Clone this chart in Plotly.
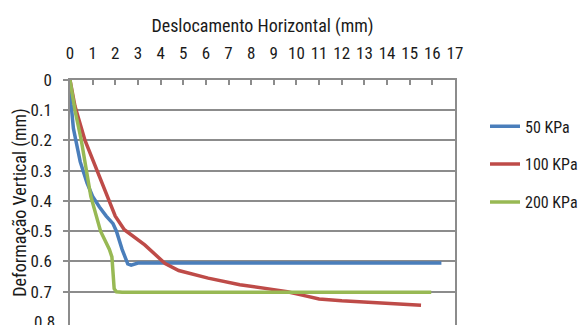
import plotly.graph_objects as go

# Horizontal displacement (mm) vs vertical deformation (mm) for each normal stress
x_50 = [0, 0.05, 0.15, 0.45, 0.75, 1.0, 1.3, 1.6, 1.9, 2.05, 2.3, 2.55, 2.7, 3.0, 4.0, 6.0, 8.0, 10.0, 12.0, 14.0, 16.4]
y_50 = [0, 0.08, 0.16, 0.27, 0.34, 0.385, 0.42, 0.45, 0.475, 0.5, 0.56, 0.608, 0.612, 0.605, 0.605, 0.605, 0.605, 0.605, 0.605, 0.605, 0.605]

x_100 = [0, 0.22, 0.65, 1.17, 1.6, 2.0, 2.4, 3.3, 4.2, 4.8, 6.1, 7.5, 9.0, 9.6, 10.3, 11.0, 12.0, 13.0, 14.0, 15.5]
y_100 = [0, 0.087, 0.197, 0.297, 0.38, 0.45, 0.495, 0.545, 0.607, 0.63, 0.655, 0.677, 0.693, 0.70, 0.712, 0.724, 0.73, 0.735, 0.739, 0.745]

x_200 = [0, 0.22, 0.5, 0.72, 0.92, 1.35, 1.74, 1.85, 1.95, 2.05, 2.3, 4.0, 6.0, 8.0, 10.0, 12.0, 14.0, 15.95]
y_200 = [0, 0.1, 0.2, 0.3, 0.385, 0.5, 0.56, 0.585, 0.69, 0.7, 0.702, 0.702, 0.702, 0.702, 0.702, 0.702, 0.702, 0.702]

series = [
    ("50 KPa", x_50, y_50, "#4a7ebb"),
    ("100 KPa", x_100, y_100, "#be4b48"),
    ("200 KPa", x_200, y_200, "#98b954"),
]

x_ticks = list(range(0, 18))
y_ticks = [0, 0.1, 0.2, 0.3, 0.4, 0.5, 0.6, 0.7]
y_tick_text = ["0", "0.1", "0.2", "0.3", "0.4", "0.5", "0.6", "0.7"]
y_last_tick = 0.8
y_last_text = "0.8"

FONT = "Liberation Sans Narrow, Arial Narrow, Roboto Condensed, Liberation Sans, sans-serif"
GRID = "#8c8c8c"
TEXT = "#1a1a1a"

fig = go.Figure()
for i, (name, xs, ys, color) in enumerate(series):
    fig.add_trace(go.Scatter(
        x=xs, y=ys, name=name, mode="lines",
        line=dict(color=color, width=3.5),
        legendgroup=f"g{i}",
    ))

fig.update_layout(
    width=583, height=325,
    margin=dict(l=70, r=122, t=80, b=0),
    paper_bgcolor="white", plot_bgcolor="white",
    font=dict(family=FONT, size=17, color=TEXT),
    showlegend=True,
    legend=dict(
        x=1.078, y=0.88, xanchor="left", yanchor="top",
        font=dict(family=FONT, size=16, color=TEXT),
        tracegroupgap=14, itemwidth=30,
        bgcolor="rgba(0,0,0,0)",
    ),
)

fig.update_xaxes(
    side="top", range=[0, 17], tickvals=x_ticks,
    ticks="inside", ticklen=5, tickcolor=GRID, tickwidth=1.5,
    showline=True, linecolor=GRID, linewidth=1.5, mirror=False,
    showgrid=False, zeroline=False,
    ticklabelstandoff=12,
    tickfont=dict(family=FONT, size=17, color=TEXT),
    title=dict(text="Deslocamento Horizontal (mm)", standoff=6,
               font=dict(family=FONT, size=18, color=TEXT)),
)

fig.update_yaxes(
    range=[0.81, 0], tickvals=y_ticks, ticktext=y_tick_text,
    ticks="outside", ticklen=5, tickcolor=GRID, tickwidth=1.5,
    showline=True, linecolor=GRID, linewidth=1.5, mirror=True,
    showgrid=True, gridcolor=GRID, gridwidth=1.5, zeroline=False,
    ticklabelstandoff=8,
    tickfont=dict(family=FONT, size=17, color=TEXT),
)

# Bottom tick label sits on the lower edge of the figure
fig.add_annotation(
    text=y_last_text, xref="paper", yref="y", x=0, y=y_last_tick,
    xanchor="right", yanchor="middle", xshift=-13, showarrow=False,
    font=dict(family=FONT, size=17, color=TEXT),
)
fig.add_shape(
    type="line", xref="paper", yref="y", x0=0, x1=0, y0=y_last_tick, y1=y_last_tick,
    line=dict(color=GRID, width=1.5),
)

# Vertical axis title, placed beside the tick labels
fig.add_annotation(
    text="Deformação Vertical (mm)", textangle=-90,
    xref="paper", yref="paper", x=-0.132, y=0.5,
    xanchor="center", yanchor="middle", showarrow=False,
    font=dict(family=FONT, size=18, color=TEXT),
)

fig.write_html("out.html")
